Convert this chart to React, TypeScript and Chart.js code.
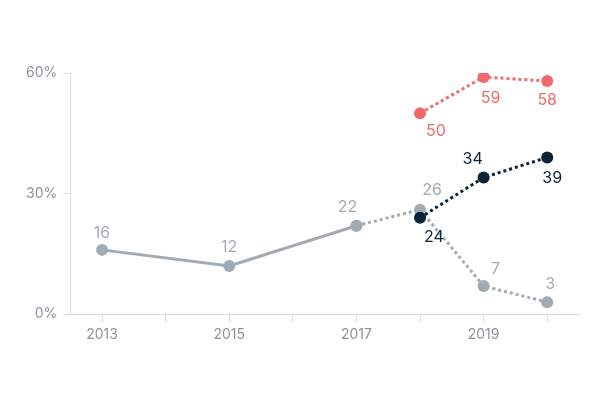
import React, { useEffect, useRef } from "react";
import { Chart, registerables } from "chart.js";

Chart.register(...registerables);

// ---- Data ----
const years = ["2013", "2014", "2015", "2016", "2017", "2018", "2019", "2020"];
const labeledYears = ["2013", "2015", "2017", "2019"];
const greySolid = [16, null, 12, null, 22, null, null, null];
const greyDotted = [null, null, null, null, 22, 26, 7, 3];
const navySeries = [null, null, null, null, null, 24, 34, 39];
const redSeries = [null, null, null, null, null, 50, 59, 58];
const yTicks = [0, 30, 60];

// ---- Styles ----
const GREY = "#a2abb2";
const NAVY = "#0c2237";
const RED = "#f06a6a";
const TICK_COLOR = "#8e939b";
const AXIS_COLOR = "#d6dee6";
const FONT = "Inter, 'Noto Sans', sans-serif";

// label offsets [dx, dy] per index (styling only)
const greySolidOffsets: Record<number, [number, number]> = { 0: [0, -17], 2: [0, -19], 4: [-9, -19] };
const greyDottedOffsets: Record<number, [number, number]> = { 5: [12, -19], 6: [12, -17], 7: [3, -18] };
const navyOffsets: Record<number, [number, number]> = { 5: [14, 19], 6: [-11, -18], 7: [5, 21] };
const redOffsets: Record<number, [number, number]> = { 5: [16, 18], 6: [7, 21], 7: [0, 19] };

const valueLabels = {
  id: "valueLabels",
  afterDatasetsDraw(chart: any) {
    const ctx = chart.ctx;
    ctx.save();
    ctx.font = `16px ${FONT}`;
    ctx.textAlign = "center";
    ctx.textBaseline = "middle";
    chart.data.datasets.forEach((ds: any, di: number) => {
      const offs = ds.labelOffsets || {};
      const meta = chart.getDatasetMeta(di);
      ds.data.forEach((v: any, i: number) => {
        if (v == null || !offs[i]) return;
        const pt = meta.data[i];
        if (!pt) return;
        ctx.fillStyle = ds.labelColor;
        ctx.fillText(String(v), pt.x + offs[i][0], pt.y + offs[i][1]);
      });
    });
    ctx.restore();
  },
};

export default function App() {
  const canvasRef = useRef<HTMLCanvasElement | null>(null);

  useEffect(() => {
    if (!canvasRef.current) return;
    const common = {
      tension: 0,
      borderWidth: 3,
      pointRadius: 6,
      pointHoverRadius: 6,
      pointBorderWidth: 0,
      spanGaps: true,
    };
    const chart = new Chart(canvasRef.current, {
      type: "line",
      data: {
        labels: years,
        datasets: [
          {
            ...common,
            data: greySolid,
            borderColor: GREY,
            backgroundColor: GREY,
            labelColor: GREY,
            labelOffsets: greySolidOffsets,
            order: 3,
          } as any,
          {
            ...common,
            data: greyDotted,
            borderColor: GREY,
            backgroundColor: GREY,
            borderDash: [3, 3],
            labelColor: GREY,
            labelOffsets: greyDottedOffsets,
            order: 4,
          } as any,
          {
            ...common,
            data: navySeries,
            borderColor: NAVY,
            backgroundColor: NAVY,
            borderDash: [3, 3],
            labelColor: NAVY,
            labelOffsets: navyOffsets,
            order: 1,
          } as any,
          {
            ...common,
            data: redSeries,
            borderColor: RED,
            backgroundColor: RED,
            borderDash: [3, 3],
            labelColor: RED,
            labelOffsets: redOffsets,
            order: 2,
          } as any,
        ],
      },
      options: {
        animation: false,
        responsive: false,
        maintainAspectRatio: false,
        layout: { padding: { top: 73, right: 21, bottom: 53, left: 20 } },
        plugins: { legend: { display: false }, tooltip: { enabled: false } },
        scales: {
          x: {
            offset: true,
            grid: {
              offset: false,
              drawOnChartArea: false,
              drawTicks: true,
              tickLength: 8,
              color: AXIS_COLOR,
            },
            border: { color: AXIS_COLOR, width: 1 },
            ticks: {
              autoSkip: false,
              maxRotation: 0,
              color: TICK_COLOR,
              font: { family: FONT, size: 14 },
              padding: 4,
              callback: function (this: any, value: any) {
                const lab = years[value as number];
                return labeledYears.includes(lab) ? lab : "";
              },
            },
          },
          y: {
            min: yTicks[0],
            max: yTicks[yTicks.length - 1],
            afterBuildTicks: (axis: any) => {
              axis.ticks = yTicks.map((v) => ({ value: v }));
            },
            grid: {
              drawOnChartArea: false,
              drawTicks: true,
              tickLength: 7,
              color: AXIS_COLOR,
            },
            border: { color: AXIS_COLOR, width: 1 },
            ticks: {
              color: TICK_COLOR,
              font: { family: FONT, size: 14 },
              padding: 6,
              callback: (v: any) => `${v}%`,
            },
          },
        },
      } as any,
      plugins: [valueLabels],
    });
    return () => chart.destroy();
  }, []);

  return (
    <div style={{ position: "absolute", left: 0, top: 0, width: 600, height: 400, background: "#fff" }}>
      <canvas ref={canvasRef} width={600} height={400} style={{ width: 600, height: 400 }} />
    </div>
  );
}
